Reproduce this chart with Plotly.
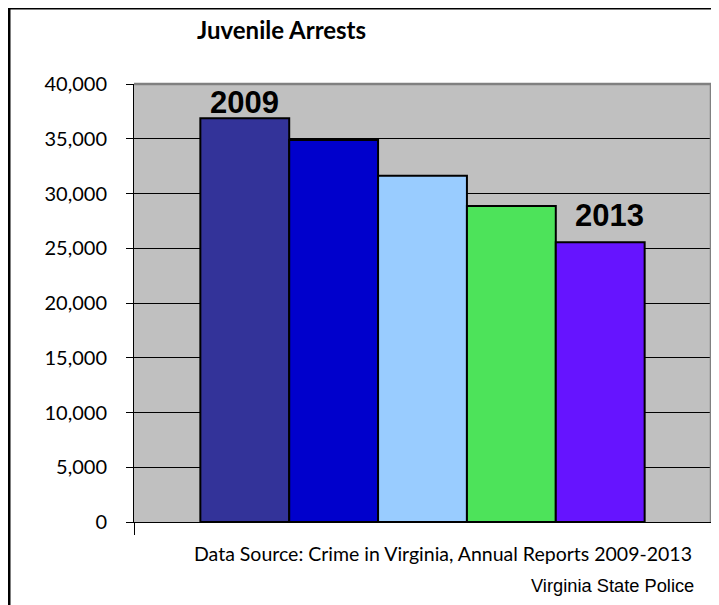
import plotly.graph_objects as go

years = ["2009", "2010", "2011", "2012", "2013"]
arrests = [36870, 34880, 31620, 28860, 25540]
bar_colors = ["#333399", "#0000CC", "#99CCFF", "#4DE35A", "#6614FF"]
labeled_years = ["2009", "2013"]
y_ticks = [0, 5000, 10000, 15000, 20000, 25000, 30000, 35000, 40000]
category = ["Juvenile Arrests"]

W, H = 719, 605
OFF = 8  # page body margin
L, R, T, B = 134 - OFF, 8 + OFF, 84 - OFF, 83 + OFF
BARGAP = 0.23

fig = go.Figure()
for yr, val, col in zip(years, arrests, bar_colors):
    fig.add_trace(go.Bar(
        x=category, y=[val], name=yr,
        marker=dict(color=col, line=dict(color="black", width=2)),
        hoverinfo="name+y",
    ))

n = len(years)
bar_w = (1 - BARGAP) / n
for yr, val in zip(years, arrests):
    if yr in labeled_years:
        i = years.index(yr)
        xc = -0.5 + BARGAP / 2 + (i + 0.5) * bar_w
        fig.add_annotation(
            x=xc, y=val, xref="x", yref="y", text="<b>%s</b>" % yr,
            showarrow=False, yanchor="bottom",
            xshift=0 if i == 0 else 9, yshift=-4 if i == 0 else 7,
            font=dict(family="Arial, Liberation Sans", size=31, color="black"),
        )

pw = W - L - R
ph = H - T - B
def px(xp):
    return (xp - OFF - L) / pw
def py(yp):
    return (H - B - (yp - OFF)) / ph

fig.add_annotation(x=px(281), y=py(30), xref="paper", yref="paper",
                   text="<b>Juvenile Arrests</b>", showarrow=False,
                   xanchor="center", yanchor="middle",
                   font=dict(family="Lato", size=24, color="black"))
fig.add_annotation(x=px(694), y=py(553), xref="paper", yref="paper",
                   text="Data Source: Crime in Virginia, Annual Reports 2009-2013",
                   showarrow=False, xanchor="right", yanchor="middle",
                   font=dict(family="Lato", size=19.5, color="black"))
fig.add_annotation(x=px(696), y=py(585), xref="paper", yref="paper",
                   text="Virginia State Police", showarrow=False,
                   xanchor="right", yanchor="middle",
                   font=dict(family="Arial, Liberation Sans", size=18.3, color="black"))

fig.add_shape(type="line", xref="paper", yref="paper", x0=0, x1=1, y0=1, y1=1,
              line=dict(color="#808080", width=2.5))
fig.add_shape(type="line", xref="paper", yref="paper", x0=1, x1=1, y0=0, y1=1,
              line=dict(color="#808080", width=2.5))
fig.add_shape(type="rect", xref="paper", yref="paper",
              x0=px(9), x1=px(W + 40), y0=py(H + 40), y1=py(8),
              line=dict(color="black", width=3), layer="above")

fig.update_layout(
    width=W, height=H,
    margin=dict(l=L, r=R, t=T, b=B, pad=0),
    paper_bgcolor="white", plot_bgcolor="#C0C0C0",
    barmode="group", bargap=BARGAP, bargroupgap=0,
    showlegend=False,
    font=dict(family="Lato", color="black"),
    xaxis=dict(
        type="category", range=[-0.5, 0.5], showticklabels=False,
        showline=True, linecolor="black", linewidth=1,
        ticks="outside", tickson="boundaries", ticklen=12, tickcolor="black",
        showgrid=False, zeroline=False, fixedrange=True,
    ),
    yaxis=dict(
        range=[0, 40000], tickvals=y_ticks, tickformat=",d",
        showline=True, linecolor="black", linewidth=1,
        ticks="outside", ticklen=7, tickcolor="black",
        showgrid=True, gridcolor="black", gridwidth=1,
        zeroline=False, ticklabelstandoff=15,
        tickfont=dict(family="Lato", size=20, color="black"),
    ),
)

fig.write_html("out.html")
